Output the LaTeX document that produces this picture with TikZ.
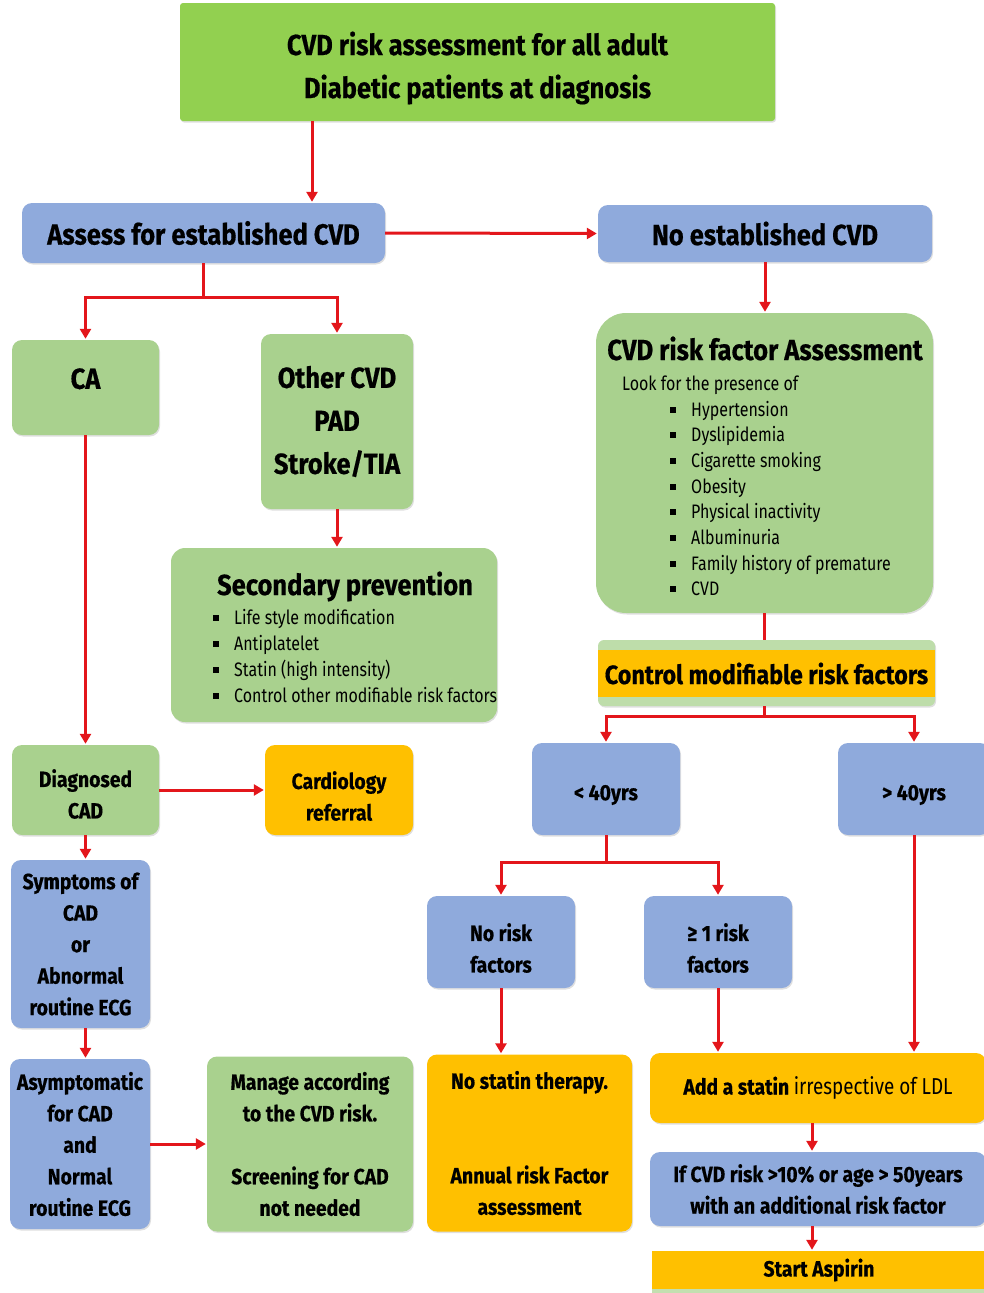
\documentclass[tikz,border=0pt]{standalone}
\usepackage{fontspec}
\setmainfont{Fira Sans}[FakeStretch=0.88, BoldFeatures={FakeBold=0.5}]
\newfontfamily\listfont{Fira Sans}[FakeStretch=0.82]
\usetikzlibrary{shadows,arrows.meta,calc}
\definecolor{gtitle}{HTML}{92D050}
\definecolor{glight}{HTML}{A9D18E}
\definecolor{bblue}{HTML}{8FAADC}
\definecolor{orng}{HTML}{FFC000}
\definecolor{redarr}{HTML}{E3161B}
\newcommand\fsz[2]{\fontsize{#1}{#2}\selectfont}
\newcommand\bul{\makebox[21pt][l]{\rule[3.5pt]{6pt}{6pt}}}
\begin{document}
\begin{tikzpicture}[x=1pt,y=-1pt,
  box/.style={rounded corners=10pt, draw=none, align=center, inner sep=0pt,
    drop shadow={shadow xshift=1pt,shadow yshift=-1.5pt,opacity=0.25}},
  txt/.style={align=center, inner sep=0pt},
  big/.style={font=\bfseries\fsz{29}{43}},
  mid/.style={font=\bfseries\fsz{22}{31.5}},
  item/.style={font=\listfont\fsz{19.5}{20}, inner sep=0pt},
  arr/.style={draw=redarr, line width=3pt, -{Triangle[length=10pt,width=11pt]}, shorten >=1pt},
  ln/.style={draw=redarr, line width=3pt}
]
\useasboundingbox (0,0) rectangle (983,1293);

% top
\node[box, fill=gtitle, rounded corners=3pt, minimum width=595pt, minimum height=118pt] (title) at (477.5,62) {};
\node[txt, big] (titletext) at (477.5,68) {CVD risk assessment for all adult\\Diabetic patients at diagnosis};
\node[box, big, fill=bblue, minimum width=363pt, minimum height=60pt] (assess) at (203.5,233) {Assess for established CVD};
\node[box, big, fill=bblue, minimum width=334pt, minimum height=57pt] (noest) at (765,233.5) {No established CVD};

% left branch
\node[box, big, fill=glight, minimum width=147pt, minimum height=95pt, text depth=18pt] (ca) at (85.5,387.5) {CA};
\node[box, big, fill=glight, minimum width=152pt, minimum height=175pt] (other) at (337,421.5) {Other CVD\\PAD\\Stroke/TIA};

\node[box, fill=glight, rounded corners=14pt, minimum width=326pt, minimum height=174pt] (sec) at (334,635) {};
\node[anchor=base, font=\bfseries\fsz{29}{30}, inner sep=0pt] (sectitle) at (345,595) {Secondary prevention};
\foreach \t [count=\i] in {Life style modification, Antiplatelet, Statin (high intensity), Control other modifiable risk factors}
  \node[item, anchor=base west] (sec\i) at (213,{624.5+26*(\i-1)}) {\bul\t};

% right: risk factor assessment
\node[box, fill=glight, rounded corners=30pt, minimum width=337pt, minimum height=300pt] (rf) at (764.5,463) {};
\node[anchor=base, font=\bfseries\fsz{29}{30}, inner sep=0pt] (rftitle) at (765,360) {CVD risk factor Assessment};
\node[item, anchor=base west] (look) at (622,390) {Look for the presence of};
\foreach \t [count=\i] in {Hypertension, Dyslipidemia, Cigarette smoking, Obesity, Physical inactivity, Albuminuria, Family history of premature, CVD}
  \node[item, anchor=base west] (rf\i) at (670,{416+25.7*(\i-1)}) {\bul\t};

\node[box, fill=glight!75, rounded corners=6pt, minimum width=337pt, minimum height=66pt] (ctrlband) at (766.5,673) {};
\node[fill=orng, inner sep=0pt, minimum width=337pt, minimum height=47pt, font=\bfseries\fsz{26.5}{27}] (ctrl) at (766.5,673.5) {Control modifiable risk factors};

\node[box, fill=bblue, minimum width=148pt, minimum height=92pt] (lt) at (606,789) {};
\node[txt, mid] (ltt) at (606,795) {< 40yrs};
\node[box, fill=bblue, minimum width=152pt, minimum height=92pt] (gt) at (914,789) {};
\node[txt, mid] (gtt) at (914,795) {> 40yrs};
\node[box, fill=bblue, minimum width=148pt, minimum height=92pt] (norisk) at (501,942) {};
\node[txt, mid] (noriskt) at (501,948) {No risk\\factors};
\node[box, fill=bblue, minimum width=148pt, minimum height=92pt] (onerisk) at (718,942) {};
\node[txt, mid] (oneriskt) at (718,948) {≥ 1 risk\\factors};

\node[box, mid, fill=orng, minimum width=205pt, minimum height=177pt] (nostatin) at (529.5,1143) {No statin therapy.\\[63pt]Annual risk Factor\\assessment};
\node[box, mid, fill=orng, minimum width=336pt, minimum height=70pt] (add) at (818,1088) {Add a statin {\mdseries\listfont\fsz{23}{24}irrespective of LDL}};
\node[box, mid, fill=bblue, minimum width=336pt, minimum height=74pt] (ifcvd) at (818,1189) {If CVD risk >10\% or age > 50years\\with an additional risk factor};
\node[mid, fill=orng, inner sep=0pt, minimum width=334pt, minimum height=38pt] (asp) at (819,1270) {Start Aspirin};
\node[fill=glight!70, inner sep=0pt, minimum width=334pt, minimum height=8pt, anchor=north] (aspband) at (asp.south) {};

% left lower
\node[box, fill=glight, minimum width=147pt, minimum height=90pt] (diag) at (85.5,790) {};
\node[txt, mid] (diagt) at (85.5,794) {Diagnosed\\CAD};
\node[box, fill=orng, minimum width=148pt, minimum height=90pt] (cardio) at (339,790) {};
\node[txt, mid] (cardiot) at (339,796) {Cardiology\\referral};
\node[box, mid, fill=bblue, minimum width=139pt, minimum height=168pt] (symp) at (80.5,944) {Symptoms of\\CAD\\or\\Abnormal\\routine ECG};
\node[box, mid, fill=bblue, minimum width=140pt, minimum height=170pt] (asym) at (80,1144) {Asymptomatic\\for CAD\\and\\Normal\\routine ECG};
\node[box, mid, fill=glight, minimum width=206pt, minimum height=175pt] (manage) at (310,1144) {Manage according\\to the CVD risk.\\[31.5pt]Screening for CAD\\not needed};

% connectors
\draw[arr] (title.south -| 312,0) -- (assess.north -| 312,0);
\draw[arr] (assess.east) -- (noest.west);
\draw[ln] (assess.south) -- ++(0,34) coordinate (aj);
\draw[arr] (aj) -| (ca.north);
\draw[arr] (aj) -| (other.north);
\draw[arr] (other.south) -- (other.south |- sec.north);
\draw[arr] (ca.south) -- (ca.south |- diag.north);
\draw[arr] (diag.east) -- (cardio.west);
\draw[arr] (diag.south) -- (diag.south |- symp.north);
\draw[arr] (symp.south -| diag.south) -- (diag.south |- asym.north);
\draw[arr] (asym.east) -- (asym.east -| manage.west);

\draw[arr] (noest.south) -- (noest.south |- rf.north);
\draw[ln] (rf.south) -- (rf.south |- ctrlband.north);
\draw[ln] (ctrlband.south -| rf.south) -- ++(0,10) coordinate (cj);
\draw[arr] (cj) -| (lt.north);
\draw[arr] (cj) -| (gt.north);
\draw[ln] (lt.south) -- ++(0,27) coordinate (lj);
\draw[arr] (lj) -| (norisk.north);
\draw[arr] (lj) -| (onerisk.north);
\draw[arr] (norisk.south) -- (norisk.south |- nostatin.north);
\draw[arr] (onerisk.south) -- (onerisk.south |- add.north);
\draw[arr] (gt.south) -- (gt.south |- add.north);
\draw[arr] (add.south -| 812,0) -- (ifcvd.north -| 812,0);
\draw[arr] (ifcvd.south -| 812,0) -- (asp.north -| 812,0);
\end{tikzpicture}
\end{document}
